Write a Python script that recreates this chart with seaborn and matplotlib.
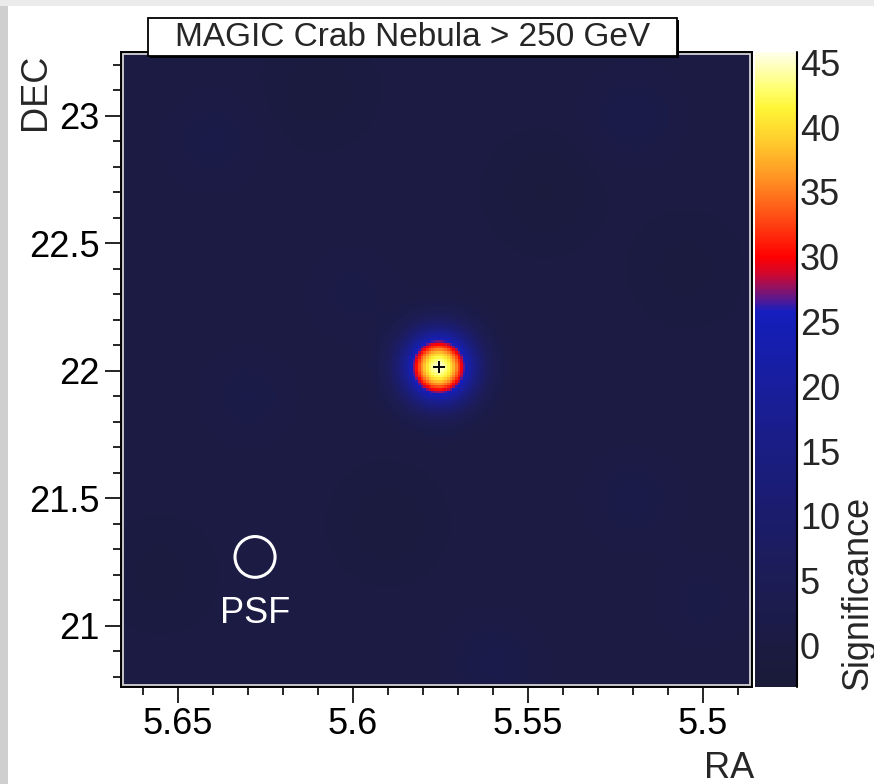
import numpy as np
import pandas as pd
import matplotlib
matplotlib.use("Agg")
import matplotlib.pyplot as plt
from matplotlib.colors import LinearSegmentedColormap
from matplotlib.patches import Ellipse, Rectangle
import seaborn as sns

# ---- sky frame (RA in hours, DEC in degrees) ----
ra_range = [5.6663, 5.4860]
dec_range = [23.25, 20.76]

# ---- Crab Nebula excess ----
source_ra = 5.5755
source_dec = 22.0145
source_peak = 45.0
source_sigma_deg = 0.098

# ---- residual background fluctuations (significance) ----
bg_level = 0.3
bg_ra = [5.640, 5.610, 5.520, 5.505, 5.600, 5.545, 5.630, 5.520, 5.590, 5.500, 5.655, 5.560]
bg_dec = [22.90, 23.10, 23.00, 22.40, 22.30, 22.70, 21.90, 21.50, 21.40, 21.10, 21.20, 20.85]
bg_amp = [1.5, -1.2, 1.8, -1.0, 1.2, -1.5, 1.4, 1.6, -1.3, 1.2, -1.0, 2.0]
bg_sigma_deg = 0.12

# ---- PSF marker ----
psf_ra = 5.628
psf_dec = 21.27
psf_radius_deg = 0.08
psf_label = "PSF"

# ---- axes ----
ra_ticks = [5.65, 5.60, 5.55, 5.50]
ra_tick_labels = ["5.65", "5.6", "5.55", "5.5"]
dec_ticks = [21.0, 21.5, 22.0, 22.5, 23.0]
dec_tick_labels = ["21", "21.5", "22", "22.5", "23"]
sig_ticks = [0, 5, 10, 15, 20, 25, 30, 35, 40, 45]
sig_range = [-3.2, 45.8]
title = "MAGIC Crab Nebula > 250 GeV"

sns.set_style("ticks")
plt.rcParams["font.family"] = ["Liberation Sans", "DejaVu Sans"]
FS = 26

# significance palette
stops = [
    (-3.2, (26, 26, 56)), (0.0, (27, 27, 66)), (5.0, (28, 28, 86)),
    (10.0, (27, 28, 108)), (15.0, (26, 29, 130)), (20.0, (24, 30, 156)),
    (25.0, (20, 30, 184)), (25.8, (22, 30, 190)), (26.6, (80, 25, 150)),
    (27.6, (145, 18, 100)), (28.6, (205, 8, 50)), (30.0, (255, 0, 0)),
    (33.0, (255, 75, 20)), (36.0, (255, 145, 35)), (39.0, (255, 205, 45)),
    (41.5, (255, 245, 55)), (43.0, (255, 255, 110)), (45.8, (255, 255, 235)),
]
span = sig_range[1] - sig_range[0]
cmap = LinearSegmentedColormap.from_list(
    "sig", [((v - sig_range[0]) / span, tuple(c / 255 for c in col)) for v, col in stops], N=512)

# evaluate the map on a fine grid
n_ra, n_dec = 240, 240
ra_edges = np.linspace(ra_range[0], ra_range[1], n_ra + 1)
dec_edges = np.linspace(dec_range[0], dec_range[1], n_dec + 1)
ra_c = 0.5 * (ra_edges[:-1] + ra_edges[1:])
dec_c = 0.5 * (dec_edges[:-1] + dec_edges[1:])
RA, DEC = np.meshgrid(ra_c, dec_c)


def dist2(ra0, dec0):
    dx = (RA - ra0) * 15.0 * np.cos(np.radians(dec0))
    dy = DEC - dec0
    return dx ** 2 + dy ** 2


sig = np.full(RA.shape, bg_level)
sig += source_peak * np.exp(-dist2(source_ra, source_dec) / (2 * source_sigma_deg ** 2))
for r, d, a in zip(bg_ra, bg_dec, bg_amp):
    sig += a * np.exp(-dist2(r, d) / (2 * bg_sigma_deg ** 2))

sig_map = pd.DataFrame(sig, index=np.round(dec_c, 5), columns=np.round(ra_c, 5))


def ix(ra):
    return (ra_range[0] - ra) / (ra_range[0] - ra_range[1]) * n_ra


def iy(dec):
    return (dec_range[0] - dec) / (dec_range[0] - dec_range[1]) * n_dec


W, H = 874, 784
fig = plt.figure(figsize=(W / 100, H / 100), dpi=100)
fig.patch.set_facecolor("white")


def fx(px):
    return px / W


def fy(py):
    return 1 - py / H


# light gray page edges
fig.patches.append(Rectangle((0, 0), fx(8), 1, transform=fig.transFigure,
                             facecolor="#cfcfcf", edgecolor="none", zorder=0))
fig.patches.append(Rectangle((0, fy(6)), 1, fy(0) - fy(6), transform=fig.transFigure,
                             facecolor="#ebebeb", edgecolor="none", zorder=0))

ax = fig.add_axes([fx(121), fy(687), fx(752) - fx(121), fy(52) - fy(687)])
cax = fig.add_axes([fx(755), fy(687), fx(797) - fx(755), fy(52) - fy(687)])

sns.heatmap(sig_map, ax=ax, cmap=cmap, vmin=sig_range[0], vmax=sig_range[1],
            cbar_ax=cax, xticklabels=False, yticklabels=False, rasterized=True)

for s in ax.spines.values():
    s.set_visible(True)
    s.set_color("black")
    s.set_linewidth(1.4)
# inner light frame line
ax.add_patch(Rectangle((0.003, 0.003), 0.994, 0.994, transform=ax.transAxes,
                       fill=False, edgecolor="#d4d4d4", lw=1.3, zorder=5))

ax.set_xticks([ix(v) for v in ra_ticks])
ax.set_xticklabels(ra_tick_labels, rotation=0)
ax.set_xticks([ix(v) for v in np.arange(5.49, 5.6601, 0.01)], minor=True)
ax.set_yticks([iy(v) for v in dec_ticks])
ax.set_yticklabels(dec_tick_labels, rotation=0)
ax.set_yticks([iy(v) for v in np.arange(20.8, 23.201, 0.1)], minor=True)
ax.tick_params(axis="both", which="major", direction="out", length=11.5, width=1.2,
               labelsize=FS, color="black", labelcolor="black", pad=4,
               bottom=True, left=True, top=False, right=False)
ax.tick_params(axis="x", which="major", pad=3)
ax.tick_params(axis="both", which="minor", direction="out", length=6, width=1.2,
               color="black", bottom=True, left=True, top=False, right=False)
ax.set_xlabel("")
ax.set_ylabel("")

# source position and PSF
ax.plot([ix(source_ra)], [iy(source_dec)], marker="+", color="black", ms=9, mew=1.4, zorder=6)
rx = psf_radius_deg / (15.0 * np.cos(np.radians(psf_dec))) / (ra_range[0] - ra_range[1]) * n_ra
ry = psf_radius_deg / (dec_range[0] - dec_range[1]) * n_dec
ax.add_patch(Ellipse((ix(psf_ra), iy(psf_dec)), 2 * rx, 2 * ry, fill=False,
                     edgecolor="white", lw=2.2, zorder=6))
ax.text(ix(psf_ra), iy(psf_dec - 0.22), psf_label, color="white", fontsize=FS,
        ha="center", va="center", zorder=6)

# colorbar styling
cbar = ax.collections[0].colorbar
cbar.outline.set_visible(False)
cbar.set_ticks(sig_ticks)
cbar.set_ticklabels([str(t) for t in sig_ticks])
cax.tick_params(axis="y", which="both", direction="in", length=14, width=1.3,
                right=True, left=False, labelright=True, labelleft=False,
                labelsize=FS, pad=2, color="black")
cax.minorticks_off()
cax.plot([1, 1], [0, 1], transform=cax.transAxes, color="black", lw=1.5, clip_on=False)

# axis titles
fig.text(fx(36), fy(54), "DEC", rotation=90, ha="center", va="top", fontsize=FS)
fig.text(fx(754), fy(768), "RA", ha="right", va="center", fontsize=FS)
fig.text(fx(858), fy(690), "Significance", rotation=90, ha="center", va="bottom", fontsize=FS)

# title box with shadow
bx0, bx1, by0, by1 = 148, 677, 18, 56
fig.patches.append(Rectangle((fx(bx0 + 2), fy(by1 + 2)), fx(bx1) - fx(bx0), fy(by0) - fy(by1),
                             transform=fig.transFigure, facecolor="black", edgecolor="none", zorder=10))
fig.patches.append(Rectangle((fx(bx0), fy(by1)), fx(bx1) - fx(bx0), fy(by0) - fy(by1),
                             transform=fig.transFigure, facecolor="white", edgecolor="black",
                             lw=1.3, zorder=11))
fig.text(fx((bx0 + bx1) / 2), fy((by0 + by1) / 2), title, ha="center", va="center",
         fontsize=24, zorder=12)

fig.savefig("out.png", dpi=100)
